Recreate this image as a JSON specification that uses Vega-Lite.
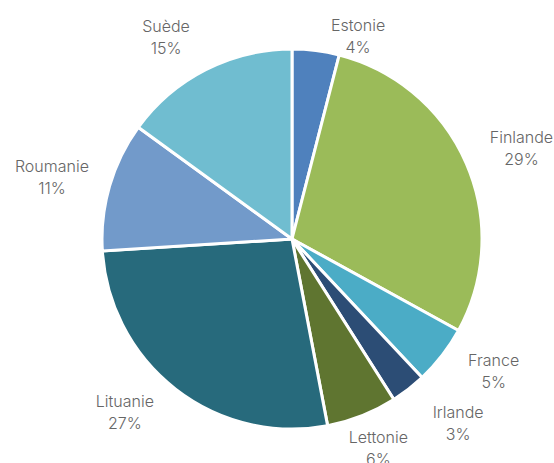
{
  "$schema": "https://vega.github.io/schema/vega-lite/v6.json",
  "width": 524,
  "height": 448,
  "autosize": {"type": "none"},
  "padding": {"left": 30, "top": 15, "right": 0, "bottom": 0},
  "background": "#ffffff",
  "view": {"stroke": null},
  "config": {"text": {"font": "Inter", "fontSize": 16, "lineHeight": 22, "color": "#666666", "fontWeight": 300}},
  "data": {
    "values": [
      {"pays": "Estonie", "part": 0.04, "ordre": 1},
      {"pays": "Finlande", "part": 0.29, "ordre": 2},
      {"pays": "France", "part": 0.05, "ordre": 3},
      {"pays": "Irlande", "part": 0.03, "ordre": 4},
      {"pays": "Lettonie", "part": 0.06, "ordre": 5},
      {"pays": "Lituanie", "part": 0.27, "ordre": 6},
      {"pays": "Roumanie", "part": 0.11, "ordre": 7},
      {"pays": "Suède", "part": 0.15, "ordre": 8}
    ]
  },
  "transform": [
    {"calculate": "[datum.pays, format(datum.part, '.0%')]", "as": "etiquette"}
  ],
  "encoding": {
    "theta": {"field": "part", "type": "quantitative", "stack": true},
    "order": {"field": "ordre", "type": "quantitative"}
  },
  "layer": [
    {
      "mark": {"type": "arc", "outerRadius": 190, "stroke": "#ffffff", "strokeWidth": 3},
      "encoding": {
        "color": {
          "field": "pays",
          "type": "nominal",
          "legend": null,
          "scale": {
            "domain": ["Estonie", "Finlande", "France", "Irlande", "Lettonie", "Lituanie", "Roumanie", "Suède"],
            "range": ["#4f81bd", "#9bbb59", "#4bacc6", "#2c4d75", "#5f7530", "#276a7c", "#729aca", "#70bdd0"]
          }
        }
      }
    },
    {
      "mark": {"type": "text", "radius": 250, "dy": -2},
      "encoding": {
        "text": {"field": "etiquette"},
        "opacity": {"condition": {"test": "indexof(['Finlande','Roumanie'], datum.pays) >= 0", "value": 1}, "value": 0}
      }
    },
    {
      "mark": {"type": "text", "radius": 240, "dx": 12, "dy": -25},
      "encoding": {
        "text": {"field": "etiquette"},
        "opacity": {"condition": {"test": "datum.pays == 'France'", "value": 1}, "value": 0}
      }
    },
    {
      "mark": {"type": "text", "radius": 240, "dx": 19, "dy": -16},
      "encoding": {
        "text": {"field": "etiquette"},
        "opacity": {"condition": {"test": "datum.pays == 'Irlande'", "value": 1}, "value": 0}
      }
    },
    {
      "mark": {"type": "text", "radius": 240, "dx": -2, "dy": -24},
      "encoding": {
        "text": {"field": "etiquette"},
        "opacity": {"condition": {"test": "datum.pays == 'Lettonie'", "value": 1}, "value": 0}
      }
    },
    {
      "mark": {"type": "text", "radius": 240, "dx": -20, "dy": -27},
      "encoding": {
        "text": {"field": "etiquette"},
        "opacity": {"condition": {"test": "datum.pays == 'Lituanie'", "value": 1}, "value": 0}
      }
    },
    {
      "mark": {"type": "text", "radius": 240, "dx": -17, "dy": 2},
      "encoding": {
        "text": {"field": "etiquette"},
        "opacity": {"condition": {"test": "datum.pays == 'Suède'", "value": 1}, "value": 0}
      }
    },
    {
      "mark": {"type": "text", "radius": 240, "dx": 36, "dy": 25},
      "encoding": {
        "text": {"field": "etiquette"},
        "opacity": {"condition": {"test": "datum.pays == 'Estonie'", "value": 1}, "value": 0}
      }
    }
  ]
}
